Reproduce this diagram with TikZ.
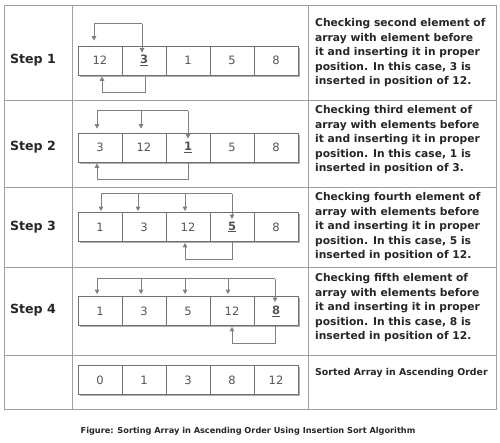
\documentclass[tikz,border=0pt]{standalone}
\usepackage{fontspec}
\setmainfont{DejaVu Sans}
\usetikzlibrary{shadows,arrows.meta}
\definecolor{tblc}{HTML}{A0A0A0}
\definecolor{cellc}{HTML}{707070}
\definecolor{arrc}{HTML}{808080}
\definecolor{numc}{HTML}{555555}
\definecolor{txtc}{HTML}{262626}
\begin{document}
\begin{tikzpicture}[x=1pt,y=-1pt,
  tbl/.style={draw=tblc,line width=0.9pt},
  cell/.style={draw=cellc,fill=white,line width=0.7pt,minimum width=44pt,minimum height=29pt,inner sep=0pt,
    font=\fontsize{11.5}{13}\selectfont,text=numc,
    drop shadow={shadow xshift=1.6pt,shadow yshift=-1.6pt,fill=black!45,opacity=0.7}},
  arr/.style={draw=arrc,line width=1pt,-{Triangle[length=4.5pt,width=4.5pt]}},
  bar/.style={draw=arrc,line width=1pt},
  steplbl/.style={font=\bfseries\fontsize{12.6}{14}\selectfont,text=txtc,inner sep=0pt},
  desc/.style={font=\bfseries\fontsize{10.7}{14.5}\selectfont,text=txtc,inner sep=0pt,anchor=north west,align=left}
]
\useasboundingbox (0,0) rectangle (500,443);
% table
\draw[tbl] (4,5) rectangle (496,409);
\draw[tbl] (72,5) -- (72,409);
\draw[tbl] (308,5) -- (308,409);
\foreach \yy in {100,187,267,355} \draw[tbl] (4,\yy) -- (496,\yy);
% step labels
\node[steplbl] (s1) at (33,60) {Step 1};
\node[steplbl] (s2) at (33,147) {Step 2};
\node[steplbl] (s3) at (33,227) {Step 3};
\node[steplbl] (s4) at (33,310) {Step 4};
% row 1
\node[cell] (c11) at (100,60.5) {12};
\node[cell] (c12) at (144,60.5) {\underline{\textbf{3}}};
\node[cell] (c13) at (188,60.5) {1};
\node[cell] (c14) at (232,60.5) {5};
\node[cell] (c15) at (276,60.5) {8};
% row 2
\node[cell] (c21) at (100,147.5) {3};
\node[cell] (c22) at (144,147.5) {12};
\node[cell] (c23) at (188,147.5) {\underline{\textbf{1}}};
\node[cell] (c24) at (232,147.5) {5};
\node[cell] (c25) at (276,147.5) {8};
% row 3
\node[cell] (c31) at (100,227) {1};
\node[cell] (c32) at (144,227) {3};
\node[cell] (c33) at (188,227) {12};
\node[cell] (c34) at (232,227) {\underline{\textbf{5}}};
\node[cell] (c35) at (276,227) {8};
% row 4
\node[cell] (c41) at (100,311) {1};
\node[cell] (c42) at (144,311) {3};
\node[cell] (c43) at (188,311) {5};
\node[cell] (c44) at (232,311) {12};
\node[cell] (c45) at (276,311) {\underline{\textbf{8}}};
% row 5
\node[cell] (c51) at (100,380) {0};
\node[cell] (c52) at (144,380) {1};
\node[cell] (c53) at (188,380) {3};
\node[cell] (c54) at (232,380) {8};
\node[cell] (c55) at (276,380) {12};
% arrows row 1
\coordinate (t1a) at (94,24); \coordinate (t1b) at (142,24);
\draw[bar] (t1a) -- (t1b);
\draw[arr] (t1a) -- ([yshift=5pt]t1a |- c11.north);
\draw[arr] (t1b) -- ([yshift=-7pt]t1b |- c12.north);
\coordinate (u1a) at (102,93); \coordinate (u1b) at (145,93);
\draw[bar] (u1b |- c12.south) -- (u1b) -- (u1a);
\draw[arr] (u1a) -- ([yshift=-1pt]u1a |- c11.south);
% arrows row 2
\coordinate (t2a) at (97,111); \coordinate (t2b) at (141,111); \coordinate (t2c) at (188,111);
\draw[bar] (t2a) -- (t2c);
\draw[arr] (t2a) -- ([yshift=4pt]t2a |- c21.north);
\draw[arr] (t2b) -- ([yshift=4pt]t2b |- c22.north);
\draw[arr] (t2c) -- ([yshift=-6pt]t2c |- c23.north);
\coordinate (u2a) at (97,180); \coordinate (u2b) at (188,180);
\draw[bar] (u2b |- c23.south) -- (u2b) -- (u2a);
\draw[arr] (u2a) -- ([yshift=-1pt]u2a |- c21.south);
% arrows row 3
\coordinate (t3a) at (101,194); \coordinate (t3b) at (138,194); \coordinate (t3c) at (185,194); \coordinate (t3d) at (232,194);
\draw[bar] (t3a) -- (t3d);
\draw[arr] (t3a) -- ([yshift=1pt]t3a |- c31.north);
\draw[arr] (t3b) -- ([yshift=1pt]t3b |- c32.north);
\draw[arr] (t3c) -- ([yshift=1pt]t3c |- c33.north);
\draw[arr] (t3d) -- ([yshift=-7pt]t3d |- c34.north);
\coordinate (u3a) at (185,260); \coordinate (u3b) at (232,260);
\draw[bar] (u3b |- c34.south) -- (u3b) -- (u3a);
\draw[arr] (u3a) -- ([yshift=-1pt]u3a |- c33.south);
% arrows row 4
\coordinate (t4a) at (97,279); \coordinate (t4b) at (141,279); \coordinate (t4c) at (185,279); \coordinate (t4d) at (228,279); \coordinate (t4e) at (275,279);
\draw[bar] (t4a) -- (t4e);
\draw[arr] (t4a) -- ([yshift=2pt]t4a |- c41.north);
\draw[arr] (t4b) -- ([yshift=2pt]t4b |- c42.north);
\draw[arr] (t4c) -- ([yshift=2pt]t4c |- c43.north);
\draw[arr] (t4d) -- ([yshift=2pt]t4d |- c44.north);
\draw[arr] (t4e) -- ([yshift=-6pt]t4e |- c45.north);
\coordinate (u4a) at (232,343); \coordinate (u4b) at (275,343);
\draw[bar] (u4b |- c45.south) -- (u4b) -- (u4a);
\draw[arr] (u4a) -- ([yshift=-1pt]u4a |- c44.south);
% descriptions
\node[desc] (d1) at (315,18.5) {Checking second element of\\array with element before\\it and inserting it in proper\\position. In this case, 3 is\\inserted in position of 12.};
\node[desc] (d2) at (315,105.5) {Checking third element of\\array with elements before\\it and inserting it in proper\\position. In this case, 1 is\\inserted in position of 3.};
\node[desc] (d3) at (315,192.5) {Checking fourth element of\\array with elements before\\it and inserting it in proper\\position. In this case, 5 is\\inserted in position of 12.};
\node[desc] (d4) at (315,273.5) {Checking fifth element of\\array with elements before\\it and inserting it in proper\\position. In this case, 8 is\\inserted in position of 12.};
\node[desc,font=\bfseries\fontsize{9.4}{12}\selectfont] (d5) at (315,368) {Sorted Array in Ascending Order};
% caption
\node[font=\bfseries\fontsize{8.2}{9}\selectfont,text=txtc,inner sep=0pt] (cap) at (248,431) {Figure: Sorting Array in Ascending Order Using Insertion Sort Algorithm};
\end{tikzpicture}
\end{document}
